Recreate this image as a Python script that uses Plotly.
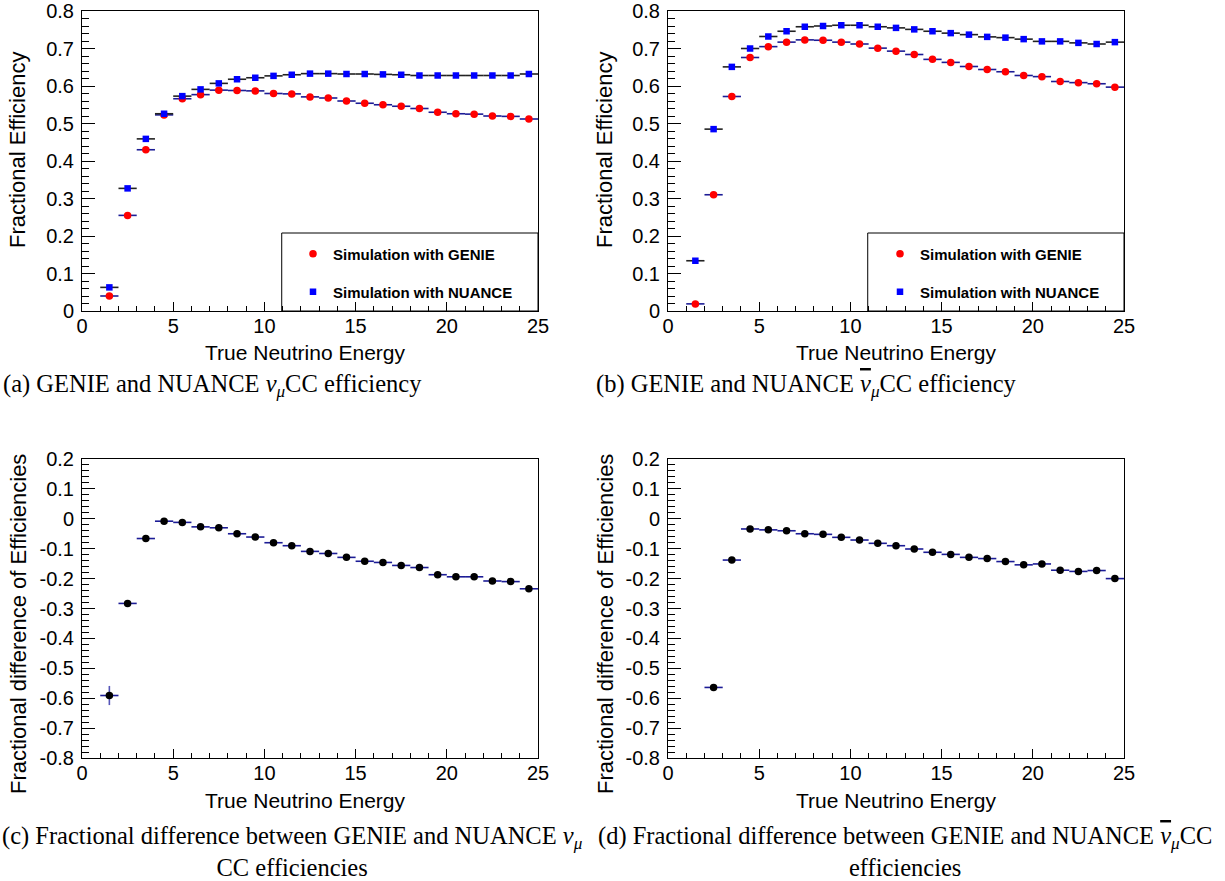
import plotly.graph_objects as go

W, H = 1225, 881

# ---------------- data ----------------
energy = [1.5, 2.5, 3.5, 4.5, 5.5, 6.5, 7.5, 8.5, 9.5, 10.5, 11.5, 12.5,
          13.5, 14.5, 15.5, 16.5, 17.5, 18.5, 19.5, 20.5, 21.5, 22.5, 23.5, 24.5]

genie_numu = [0.040, 0.255, 0.430, 0.523, 0.566, 0.577, 0.589, 0.588, 0.587, 0.580,
              0.579, 0.571, 0.568, 0.560, 0.554, 0.550, 0.546, 0.540, 0.530, 0.526,
              0.525, 0.520, 0.519, 0.512]
nuance_numu = [0.063, 0.327, 0.459, 0.526, 0.573, 0.591, 0.607, 0.618, 0.622, 0.627,
               0.630, 0.633, 0.633, 0.632, 0.632, 0.631, 0.630, 0.628, 0.628, 0.628,
               0.628, 0.628, 0.628, 0.632]

genie_nubar = [0.019, 0.310, 0.572, 0.676, 0.705, 0.717, 0.723, 0.722, 0.717, 0.712,
               0.701, 0.693, 0.684, 0.671, 0.663, 0.652, 0.644, 0.638, 0.628, 0.625,
               0.612, 0.609, 0.606, 0.597]
nuance_nubar = [0.134, 0.485, 0.651, 0.700, 0.732, 0.746, 0.758, 0.760, 0.762, 0.762,
                0.758, 0.755, 0.751, 0.746, 0.741, 0.737, 0.731, 0.729, 0.725, 0.719,
                0.719, 0.715, 0.712, 0.717]

diff_numu = [-0.591, -0.283, -0.066, -0.008, -0.012, -0.027, -0.030, -0.050, -0.061,
             -0.080, -0.090, -0.109, -0.116, -0.129, -0.142, -0.146, -0.156, -0.163,
             -0.187, -0.194, -0.194, -0.208, -0.210, -0.234]
diff_numu_err = [0.032, 0.006, 0.004, 0.003, 0.003, 0.003, 0.003, 0.003, 0.003, 0.003,
                 0.003, 0.003, 0.003, 0.003, 0.003, 0.003, 0.003, 0.003, 0.003, 0.003,
                 0.003, 0.003, 0.003, 0.003]

energy_nubar_diff = [2.5, 3.5, 4.5, 5.5, 6.5, 7.5, 8.5, 9.5, 10.5, 11.5, 12.5, 13.5,
                     14.5, 15.5, 16.5, 17.5, 18.5, 19.5, 20.5, 21.5, 22.5, 23.5, 24.5]
diff_nubar = [-0.564, -0.138, -0.034, -0.037, -0.040, -0.050, -0.052, -0.062, -0.071,
              -0.082, -0.090, -0.101, -0.112, -0.119, -0.129, -0.133, -0.143, -0.154,
              -0.151, -0.172, -0.176, -0.173, -0.200]

x_ticks = [0, 5, 10, 15, 20, 25]
y_top_ticks = [0, 0.1, 0.2, 0.3, 0.4, 0.5, 0.6, 0.7, 0.8]
y_top_text = ["0", "0.1", "0.2", "0.3", "0.4", "0.5", "0.6", "0.7", "0.8"]
y_bot_ticks = [-0.8, -0.7, -0.6, -0.5, -0.4, -0.3, -0.2, -0.1, 0, 0.1, 0.2]
y_bot_text = ["-0.8", "-0.7", "-0.6", "-0.5", "-0.4", "-0.3", "-0.2", "-0.1", "0", "0.1", "0.2"]

# ---------------- styles ----------------
SANS = "Liberation Sans"
SERIF = "Liberation Serif"
RED = "#ff0000"
BLUE = "#0000ff"
NAVY = "#1c1c96"

def px(x):
    return x / W

def py(y):
    return 1 - y / H

fig = go.Figure()

def add_eff(xax, yax, genie, nuance, lg_g, lg_n):
    fig.add_trace(go.Scatter(
        x=energy, y=genie, mode="markers", name="Simulation with GENIE",
        xaxis=xax, yaxis=yax, legend=lg_g,
        marker=dict(symbol="circle", size=7.5, color=RED),
        error_x=dict(type="constant", value=0.5, color=NAVY, thickness=1.6, width=0),
    ))
    fig.add_trace(go.Scatter(
        x=energy, y=nuance, mode="markers", name="Simulation with NUANCE",
        xaxis=xax, yaxis=yax, legend=lg_n,
        marker=dict(symbol="square", size=6.5, color=BLUE),
        error_x=dict(type="constant", value=0.5, color="#222222", thickness=1.6, width=0),
    ))

add_eff("x", "y", genie_numu, nuance_numu, "legend", "legend2")
add_eff("x2", "y2", genie_nubar, nuance_nubar, "legend3", "legend4")

fig.add_trace(go.Scatter(
    x=energy, y=diff_numu, mode="markers", xaxis="x3", yaxis="y3", showlegend=False,
    marker=dict(symbol="circle", size=7.5, color="black"),
    error_x=dict(type="constant", value=0.5, color=NAVY, thickness=1.6, width=0),
    error_y=dict(type="data", array=diff_numu_err, color="#5555b8", thickness=1.6, width=0),
))
fig.add_trace(go.Scatter(
    x=energy_nubar_diff, y=diff_nubar, mode="markers", xaxis="x4", yaxis="y4", showlegend=False,
    marker=dict(symbol="circle", size=7.5, color="black"),
    error_x=dict(type="constant", value=0.5, color=NAVY, thickness=1.6, width=0),
))

xdom_l = [px(82), px(538)]
xdom_r = [px(668), px(1124)]
ydom_t = [py(311), py(11)]
ydom_b = [py(758), py(459)]

tickfont = dict(family=SANS, size=20, color="black")

def xaxis(dom, anchor):
    return dict(domain=dom, anchor=anchor, range=[0, 25], tickmode="array", tickvals=x_ticks,
                ticks="inside", ticklen=9, tickwidth=1, tickcolor="black",
                minor=dict(ticks="inside", ticklen=5, tickwidth=1, tickcolor="black", dtick=1, tick0=0),
                showline=True, linecolor="black", linewidth=1, mirror=True, automargin=False,
                showgrid=False, zeroline=False, tickfont=tickfont, ticklabelstandoff=-3)

def yaxis(dom, anchor, rng, tv, tt):
    return dict(domain=dom, anchor=anchor, range=rng, tickmode="array", tickvals=tv, ticktext=tt,
                ticks="inside", ticklen=13, tickwidth=1, tickcolor="black",
                minor=dict(ticks="inside", ticklen=7, tickwidth=1, tickcolor="black", dtick=0.02, tick0=0),
                showline=True, linecolor="black", linewidth=1, mirror=True, automargin=False,
                showgrid=False, zeroline=False, tickfont=tickfont, ticklabelstandoff=3)

legend_common = dict(bgcolor="rgba(0,0,0,0)", borderwidth=0,
                     font=dict(family=SANS, size=15, color="black", weight="bold"),
                     xanchor="left", yanchor="middle")

fig.update_layout(
    width=W, height=H, margin=dict(l=0, r=0, t=0, b=0, autoexpand=False),
    paper_bgcolor="white", plot_bgcolor="white",
    xaxis=xaxis(xdom_l, "y"), yaxis=yaxis(ydom_t, "x", [0, 0.8], y_top_ticks, y_top_text),
    xaxis2=xaxis(xdom_r, "y2"), yaxis2=yaxis(ydom_t, "x2", [0, 0.8], y_top_ticks, y_top_text),
    xaxis3=xaxis(xdom_l, "y3"), yaxis3=yaxis(ydom_b, "x3", [-0.8, 0.2], y_bot_ticks, y_bot_text),
    xaxis4=xaxis(xdom_r, "y4"), yaxis4=yaxis(ydom_b, "x4", [-0.8, 0.2], y_bot_ticks, y_bot_text),
    legend=dict(x=px(293), y=py(254), **legend_common),
    legend2=dict(x=px(293), y=py(292), **legend_common),
    legend3=dict(x=px(880), y=py(254), **legend_common),
    legend4=dict(x=px(880), y=py(292), **legend_common),
    showlegend=True,
)

# legend boxes
for xr, yr in (("x", "y"), ("x2", "y2")):
    fig.add_shape(type="rect", xref=f"{xr} domain", yref=f"{yr} domain",
                  x0=0.438, x1=1.0, y0=0.0, y1=0.26,
                  line=dict(color="black", width=1), fillcolor="rgba(0,0,0,0)", layer="above")

xtitlefont = dict(family=SANS, size=21, color="black")
ytitlefont = dict(family=SANS, size=22, color="black")
ann = []
# x-axis titles
for cx, cy in ((305, 352), (896, 352), (305, 800), (896, 800)):
    ann.append(dict(text="True Neutrino Energy", x=px(cx), y=py(cy), xref="paper", yref="paper",
                    xanchor="center", yanchor="middle", showarrow=False, font=xtitlefont))
# y-axis titles
for cx, cy, t in ((18, 150, "Fractional Efficiency"), (605, 150, "Fractional Efficiency"),
                  (18, 624, "Fractional difference of Efficiencies"),
                  (605, 624, "Fractional difference of Efficiencies")):
    ann.append(dict(text=t, x=px(cx), y=py(cy), xref="paper", yref="paper", textangle=-90,
                    xanchor="center", yanchor="middle", showarrow=False, font=ytitlefont))

NUBAR = "<span style='text-decoration:overline'><i>ν</i></span><sub><i>μ</i></sub>"
NU = "<i>ν</i><sub><i>μ</i></sub>"

capfont = dict(family=SERIF, size=24.5, color="black")
ann.append(dict(text="(a) GENIE and NUANCE " + NU + "CC efficiency",
                x=px(1), y=py(385), xref="paper", yref="paper", xanchor="left", yanchor="middle",
                showarrow=False, font=capfont))
ann.append(dict(text="(b) GENIE and NUANCE " + NUBAR + "CC efficiency",
                x=px(594), y=py(385), xref="paper", yref="paper", xanchor="left", yanchor="middle",
                showarrow=False, font=capfont))
ann.append(dict(text="(c) Fractional difference between GENIE and NUANCE " + NU + "<br>CC efficiencies",
                x=px(292), y=py(851), xref="paper", yref="paper", xanchor="center", yanchor="middle",
                align="center", showarrow=False, font=capfont))
ann.append(dict(text="(d) Fractional difference between GENIE and NUANCE " + NUBAR + "CC<br>efficiencies",
                x=px(905), y=py(851), xref="paper", yref="paper", xanchor="center", yanchor="middle",
                align="center", showarrow=False, font=capfont))

fig.update_layout(annotations=ann)

fig.write_html("out.html")
